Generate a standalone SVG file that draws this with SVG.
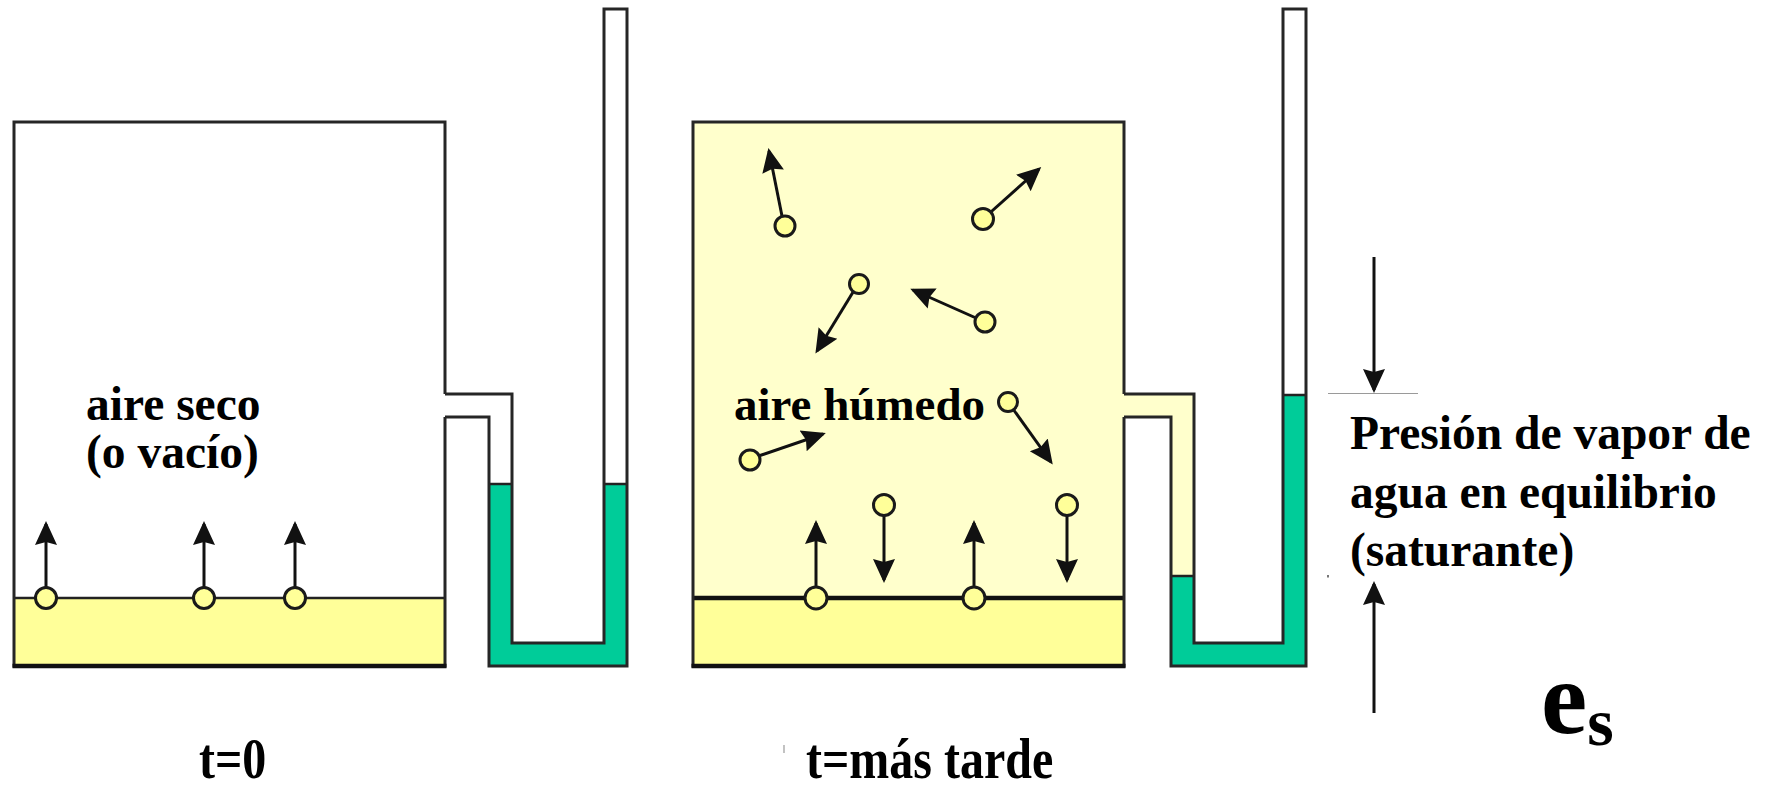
<svg xmlns="http://www.w3.org/2000/svg" width="1769" height="786" viewBox="0 0 1769 786">
  <style>
    .wall { fill: none; stroke: #262626; stroke-width: 3; stroke-linejoin: miter; }
    .base { stroke: #111; stroke-width: 4.5; }
    .surface { stroke: #222; stroke-width: 2.5; }
    .surface-thick { stroke: #111; stroke-width: 4.5; }
    .liquid { fill: #FFFF99; }
    .vapour { fill: #FFFFCC; }
    .mercury { fill: #00CC99; }
    .level { stroke: #222; stroke-width: 2.5; }
    .mol { fill: #FFFF99; stroke: #1a1a1a; stroke-width: 3; }
    .arrow { stroke: #111; stroke-width: 3; fill: none; marker-end: url(#head); }
    .faint { stroke: #9a9a9a; stroke-width: 1.2; }
  </style>
  <defs>
    <marker id="head" markerUnits="userSpaceOnUse" markerWidth="24" markerHeight="24" viewBox="0 0 24 24" refX="21" refY="12" orient="auto">
      <path d="M0,1 L24,12 L0,23 L3,12 Z" fill="#111"/>
    </marker>
  </defs>

  <rect width="1769" height="786" fill="#fff"/>

  <!-- Vessel at t = 0: dry air over water, manometer level -->
  <g id="vessel-t0">
    <rect class="liquid" x="14" y="598" width="431" height="68"/>
    <path class="mercury" d="M489,484 H512 V643 H604 V484 H627 V666 H489 Z"/>
    <line class="level" x1="489" y1="484" x2="512" y2="484"/>
    <line class="level" x1="604" y1="484" x2="627" y2="484"/>
    <line class="surface" x1="14" y1="598" x2="445" y2="598"/>
    <path class="wall" d="M445,394 V122 H14 V666 H445 V417"/>
    <path class="wall" d="M445,394 H512 V643 H604 V9 H627 V666 H489 V417 H445"/>
    <line class="base" x1="12.5" y1="666" x2="446.5" y2="666"/>
  </g>

  <!-- Vessel some time later: humid air, manometer displaced -->
  <g id="vessel-later">
    <rect class="vapour" x="693" y="122" width="431" height="476"/>
    <path class="vapour" d="M1124,394 H1194 V576 H1171 V417 H1124 Z"/>
    <rect class="liquid" x="693" y="598" width="431" height="68"/>
    <path class="mercury" d="M1171,576 H1194 V643 H1283 V395 H1306 V666 H1171 Z"/>
    <line class="level" x1="1171" y1="576" x2="1194" y2="576"/>
    <line class="level" x1="1283" y1="395" x2="1306" y2="395"/>
    <line class="surface-thick" x1="693" y1="598" x2="1124" y2="598"/>
    <path class="wall" d="M1124,394 V122 H693 V666 H1124 V417"/>
    <path class="wall" d="M1124,394 H1194 V643 H1283 V9 H1306 V666 H1171 V417 H1124"/>
    <line class="base" x1="691.5" y1="666" x2="1125.5" y2="666"/>
  </g>

  <!-- Molecule motion arrows -->
  <g id="connectors">
    <line class="arrow" x1="46" y1="590" x2="46" y2="524"/>
    <line class="arrow" x1="204" y1="590" x2="204" y2="524"/>
    <line class="arrow" x1="295" y1="590" x2="295" y2="524"/>

    <line class="arrow" x1="784" y1="226" x2="769" y2="151"/>
    <line class="arrow" x1="983" y1="219" x2="1039" y2="169"/>
    <line class="arrow" x1="858" y1="284" x2="817" y2="351"/>
    <line class="arrow" x1="985" y1="322" x2="913" y2="290"/>
    <line class="arrow" x1="1008" y1="402" x2="1051" y2="462"/>
    <line class="arrow" x1="750" y1="459" x2="823" y2="434"/>
    <line class="arrow" x1="884" y1="505" x2="884" y2="580"/>
    <line class="arrow" x1="1067" y1="505" x2="1067" y2="580"/>
    <line class="arrow" x1="816" y1="590" x2="816" y2="523"/>
    <line class="arrow" x1="974" y1="590" x2="974" y2="523"/>

    <line class="arrow" x1="1374" y1="257" x2="1374" y2="390"/>
    <line class="arrow" x1="1374" y1="713" x2="1374" y2="584"/>
  </g>

  <!-- Water molecules -->
  <g id="molecules">
    <circle class="mol" cx="46" cy="598" r="10.5"/>
    <circle class="mol" cx="204" cy="598" r="10.5"/>
    <circle class="mol" cx="295" cy="598" r="10.5"/>

    <circle class="mol" cx="785" cy="226" r="10"/>
    <circle class="mol" cx="983" cy="219" r="10.5"/>
    <circle class="mol" cx="859" cy="284" r="9.5"/>
    <circle class="mol" cx="985" cy="322" r="10"/>
    <circle class="mol" cx="1008" cy="402" r="9.5"/>
    <circle class="mol" cx="750" cy="460" r="10"/>
    <circle class="mol" cx="884" cy="505" r="10.5"/>
    <circle class="mol" cx="1067" cy="505" r="10.5"/>
    <circle class="mol" cx="816" cy="598" r="11"/>
    <circle class="mol" cx="974" cy="598" r="11"/>
  </g>

  <!-- Saturation pressure bracket marks -->
  <g id="pressure-marks">
    <line class="faint" x1="1328" y1="393.5" x2="1418" y2="393.5"/>
    <rect x="1327" y="575" width="2" height="2.5" fill="#777"/>
    <line class="faint" x1="784" y1="745" x2="784" y2="753"/>
  </g>

  <!-- Labels -->
  <g id="labels" font-family="Liberation Serif, Times New Roman, serif" font-weight="bold" fill="#000">
    <text x="86" y="420" font-size="47.5">aire seco</text>
    <text x="86" y="468" font-size="47.5">(o vacío)</text>
    <text x="734" y="420" font-size="47">aire húmedo</text>
    <text x="1350" y="449" font-size="47.5">Presión de vapor de</text>
    <text x="1350" y="508" font-size="47.5">agua en equilibrio</text>
    <text x="1350" y="566" font-size="47.5">(saturante)</text>
    <text x="1541" y="733" font-size="104">e<tspan font-size="68" dy="12">s</tspan></text>
    <!-- time captions are set in a vertically stretched face -->
    <g transform="translate(0,778) scale(1,1.2)">
      <text x="199" y="0" font-size="48">t=0</text>
      <text x="806" y="0" font-size="48">t=más tarde</text>
    </g>
  </g>
</svg>
